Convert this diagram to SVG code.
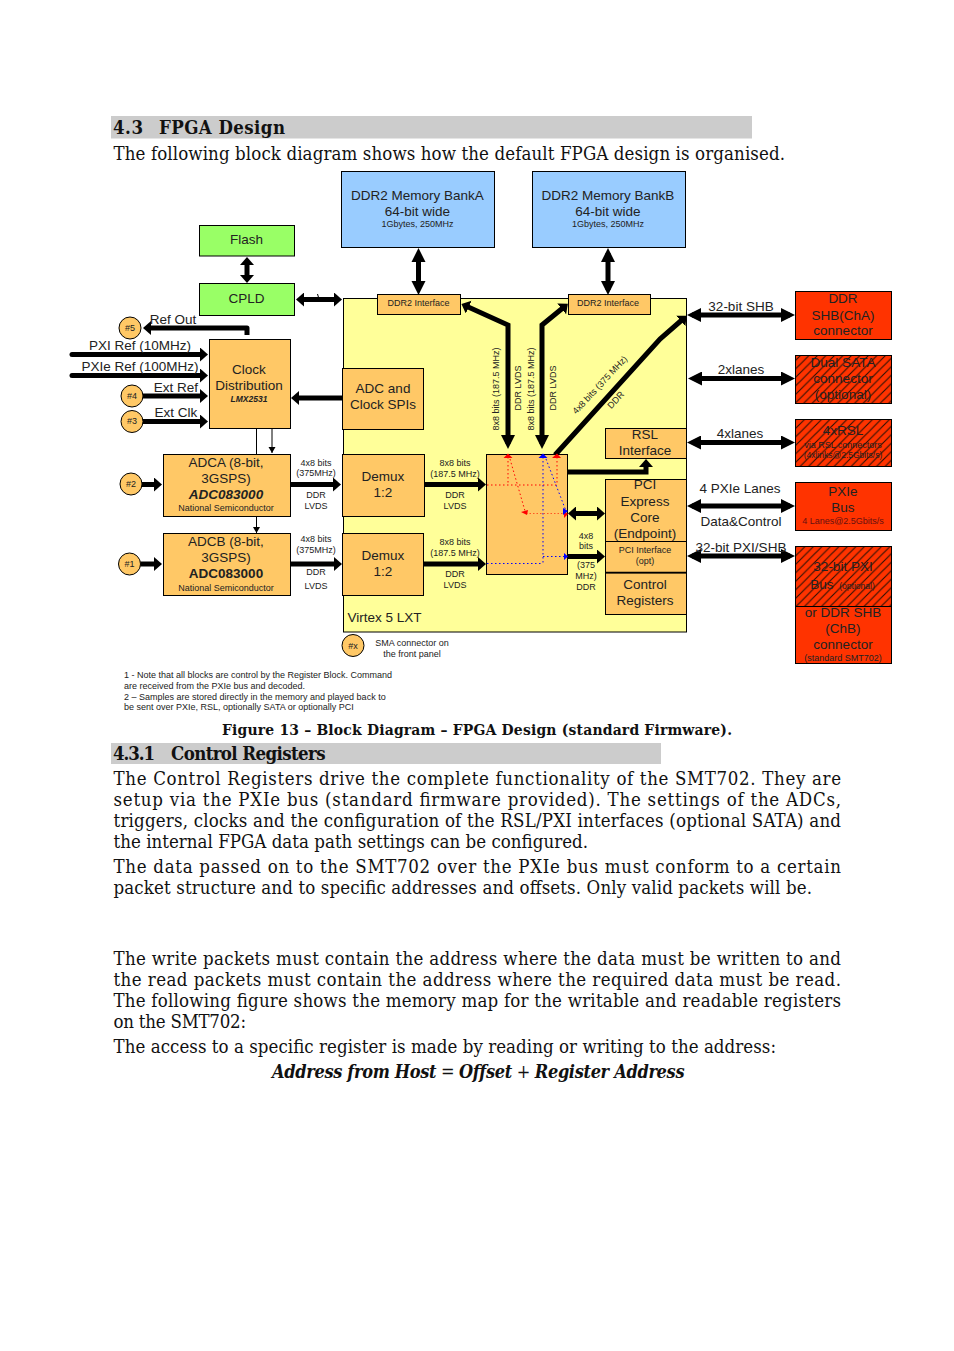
<svg xmlns="http://www.w3.org/2000/svg" width="954" height="1351" viewBox="0 0 954 1351">
<style>
text{font-family:"Liberation Sans",Arial,sans-serif;fill:#222;text-anchor:middle}
.b{font-family:"DejaVu Serif Condensed","DejaVu Serif",serif;font-size:18.5px;fill:#111;text-anchor:start}
.h{font-family:"DejaVu Serif Condensed","DejaVu Serif",serif;font-size:18.5px;font-weight:bold;fill:#111;text-anchor:start}
.n{stroke:#000;stroke-width:1}
.y{fill:#ffc866}.g{fill:#99ff66}.m{fill:#99ccff}.r{fill:#ff3300}.x{fill:url(#hatch)}
.c{fill:#ffc866;stroke:#000;stroke-width:1}
.t14{font-size:13.5px}.t9{font-size:9px}.t8{font-size:8.5px}
.a{fill:none;stroke:#000;stroke-width:5;marker-end:url(#ah)}
.aa{fill:none;stroke:#000;stroke-width:5;marker-end:url(#ah);marker-start:url(#ahs)}
.al{fill:none;stroke:#000;stroke-width:5;marker-end:url(#ahl);marker-start:url(#ahls)}
.an{fill:none;stroke:#000;stroke-width:5;marker-start:url(#ahls);marker-end:url(#ah)}
.thin{fill:none;stroke:#000;stroke-width:1}
.dr{fill:none;stroke:#f00;stroke-width:1;stroke-dasharray:1.5 2.5}
.db{fill:none;stroke:#00f;stroke-width:1;stroke-dasharray:1.5 2.5}
.do{fill:none;stroke:#ff5522;stroke-width:1.2;stroke-dasharray:1.5 2}
</style>
<defs>
<marker id="ah" markerUnits="userSpaceOnUse" markerWidth="10" markerHeight="15" refX="3" refY="7" orient="auto"><path d="M0 0L8 7L0 14Z" fill="#000"/></marker>
<marker id="ahs" markerUnits="userSpaceOnUse" markerWidth="10" markerHeight="15" refX="5" refY="7" orient="auto"><path d="M8 0L0 7L8 14Z" fill="#000"/></marker>
<marker id="ahl" markerUnits="userSpaceOnUse" markerWidth="15" markerHeight="15" refX="9" refY="7" orient="auto"><path d="M0 0L14 7L0 14Z" fill="#000"/></marker>
<marker id="ahls" markerUnits="userSpaceOnUse" markerWidth="15" markerHeight="15" refX="5" refY="7" orient="auto"><path d="M14 0L0 7L14 14Z" fill="#000"/></marker>
<marker id="th" markerUnits="userSpaceOnUse" markerWidth="8" markerHeight="8" refX="6" refY="3.5" orient="auto"><path d="M0 0L6 3.5L0 7Z" fill="#000"/></marker>
<pattern id="hatch" patternUnits="userSpaceOnUse" width="8.5" height="8.5"><rect width="8.5" height="8.5" fill="#ff3300"/><path d="M-2 2L2 -2M0 8.500L8.500 0M6.500 10.500L10.500 6.500" stroke="#2a1005" stroke-width="1.1"/></pattern>
</defs>
<rect width="954" height="1351" fill="#fff"/>

<g id="page-text">
<rect x="111" y="116" width="641" height="22.500" fill="#ccc"/>
<text class="h" x="113" y="133.500" textLength="30">4.3</text><text class="h" x="159" y="133.500" textLength="126">FPGA Design</text>
<text class="b" x="113.500" y="159.500" textLength="671.500">The following block diagram shows how the default FPGA design is organised.</text>
<text class="b" style="font-size:15.500px;font-weight:bold" x="222" y="735" textLength="510">Figure 13 – Block Diagram – FPGA Design (standard Firmware).</text>
<rect x="111" y="743" width="550" height="21" fill="#ccc"/>
<text class="h" x="113" y="759.500" textLength="42">4.3.1</text><text class="h" x="171" y="759.500" textLength="154.500">Control Registers</text>
<text class="b" x="113.500" y="785" textLength="727.500">The Control Registers drive the complete functionality of the SMT702. They are</text>
<text class="b" x="113.500" y="806" textLength="727.500">setup via the PXIe bus (standard firmware provided). The settings of the ADCs,</text>
<text class="b" x="113.500" y="827" textLength="727.500">triggers, clocks and the configuration of the RSL/PXI interfaces (optional SATA) and</text>
<text class="b" x="113.500" y="848" textLength="474.500">the internal FPGA data path settings can be configured.</text>
<text class="b" x="113.500" y="873" textLength="727.500">The data passed on to the SMT702 over the PXIe bus must conform to a certain</text>
<text class="b" x="113.500" y="894" textLength="698.500">packet structure and to specific addresses and offsets. Only valid packets will be.</text>
<text class="b" x="113.500" y="965" textLength="727.500">The write packets must contain the address where the data must be written to and</text>
<text class="b" x="113.500" y="986" textLength="727.500">the read packets must contain the address where the required data must be read.</text>
<text class="b" x="113.500" y="1007" textLength="727.500">The following figure shows the memory map for the writable and readable registers</text>
<text class="b" x="113.500" y="1028" textLength="132.500">on the SMT702:</text>
<text class="b" x="113.500" y="1053" textLength="662.500">The access to a specific register is made by reading or writing to the address:</text>
<text class="b" style="font-size:18px" x="272" y="1078" textLength="412.500"><tspan font-style="italic" font-weight="bold">Address from Host</tspan> = <tspan font-style="italic" font-weight="bold">Offset</tspan> + <tspan font-style="italic" font-weight="bold">Register Address</tspan></text>
</g>

<g id="fpga"><rect x="343.500" y="298.500" width="343" height="333.500" fill="#ffff99" stroke="#000"/><text class="t14" x="384.500" y="622">Virtex 5 LXT</text></g>

<g id="connectors">
<path class="aa" d="M247 262V278"/>
<path class="aa" d="M301 299.500H337"/>
<path class="thin" d="M317.500 294L319 299"/>
<path class="al" d="M418.500 253V290"/>
<path class="al" d="M608 253V290"/>
<path class="a" d="M247 335V328H148" stroke-linejoin="round"/>
<path class="a" d="M72 354.500H203" stroke-linecap="round"/>
<path class="a" d="M72 375.500H203" stroke-linecap="round"/>
<path class="a" d="M142 396H203"/>
<path class="a" d="M142 421.500H203"/>
<path class="a" d="M343 398H296"/>
<path class="thin" d="M256.500 428V454"/>
<path class="thin" d="M272 428V453" marker-end="url(#th)"/>
<path class="thin" d="M256.500 516V533" marker-end="url(#th)"/>
<path class="a" d="M142 484.500H157"/>
<path class="a" d="M140 564H157"/>
<path class="a" d="M291 484.500H336"/>
<path class="a" d="M291 564H337"/>
<path class="a" d="M424 484.500H481"/>
<path class="a" d="M424 564H481"/>
<path class="an" d="M508 444V325L466 306"/>
<path class="an" d="M542 444V325L564 307"/>
<path class="a" d="M555 455L660 339L683 319"/>
<path class="al" d="M692 315H790"/>
<path class="al" d="M693 378.500H790"/>
<path class="al" d="M692 442.500H790"/>
<path class="al" d="M692 506H790"/>
<path class="al" d="M692 556H790"/>
<path class="a" d="M568 472H646V464"/>
<path class="aa" d="M573 513.500H600"/>
<path class="a" d="M568 556.500H600"/>
</g>

<g id="mem-a" class="n"><rect class="m" x="341.500" y="171.500" width="153" height="76"/></g>
<g id="mem-a-t"><text class="t14" x="417.500" y="199.500">DDR2 Memory BankA</text><text class="t14" x="417.500" y="215.500">64-bit wide</text><text class="t9" x="417.500" y="227">1Gbytes, 250MHz</text></g>
<g id="mem-b" class="n"><rect class="m" x="532.500" y="171.500" width="153" height="76"/></g>
<g id="mem-b-t"><text class="t14" x="608" y="199.500">DDR2 Memory BankB</text><text class="t14" x="608" y="215.500">64-bit wide</text><text class="t9" x="608" y="227">1Gbytes, 250MHz</text></g>
<g id="flash"><rect class="g n" x="199.500" y="225.500" width="95" height="30.500"/><text class="t14" x="246.500" y="244">Flash</text></g>
<g id="cpld"><rect class="g n" x="199.500" y="283.500" width="95" height="32"/><text class="t14" x="246.500" y="303">CPLD</text></g>
<g id="clock"><rect class="y n" x="209.500" y="339.500" width="81" height="89"/><text class="t14" x="249" y="374">Clock</text><text class="t14" x="249" y="390">Distribution</text><text x="249" y="402" style="font-size:8.500px;font-weight:bold;font-style:italic">LMX2531</text></g>
<g id="spi"><rect class="y n" x="342.500" y="368.500" width="81" height="61"/><text class="t14" x="383" y="393">ADC and</text><text class="t14" x="383" y="409">Clock SPIs</text></g>
<g id="ifa"><rect class="y n" x="377.500" y="294.500" width="83" height="20"/><text class="t9" x="418.500" y="306">DDR2 Interface</text></g>
<g id="ifb"><rect class="y n" x="568.500" y="294.500" width="82" height="20"/><text class="t9" x="608" y="306">DDR2 Interface</text></g>
<g id="adca"><rect class="y n" x="163.500" y="454.500" width="127" height="62"/><text class="t14" x="226" y="467">ADCA (8-bit,</text><text class="t14" x="226" y="483">3GSPS)</text><text x="226" y="499" style="font-size:13.500px;font-weight:bold;font-style:italic">ADC083000</text><text class="t9" x="226" y="511">National Semiconductor</text></g>
<g id="adcb"><rect class="y n" x="163.500" y="533.500" width="127" height="62"/><text class="t14" x="226" y="546">ADCB (8-bit,</text><text class="t14" x="226" y="562">3GSPS)</text><text x="226" y="578" style="font-size:13.500px;font-weight:bold">ADC083000</text><text class="t9" x="226" y="591">National Semiconductor</text></g>
<g id="demux1"><rect class="y n" x="342.500" y="454.500" width="82" height="62"/><text class="t14" x="383" y="481">Demux</text><text class="t14" x="383" y="497">1:2</text></g>
<g id="demux2"><rect class="y n" x="342.500" y="533.500" width="81" height="62"/><text class="t14" x="383" y="560">Demux</text><text class="t14" x="383" y="576">1:2</text></g>
<g id="central"><rect class="y n" x="486.500" y="454.500" width="81" height="120"/>
<path class="dr" d="M487 485H557M508 457V485M557 457V485M510 459L525 511"/>
<path class="db" d="M487 563.500H543M543 457V563.500M543 556.500H565M546 459L566 511"/>
<path class="do" d="M526 513.500H565"/>
<path d="M503.500 458L508 453.500L512.500 458ZM552 458L557 453.500L561 458ZM521 512L528 510L527 515ZM564 511L568 514L564 518Z" fill="#f00"/>
<path d="M538.500 458L543 453.500L547.500 458ZM563 508L568 511L563 515ZM564 553L568 556.500L564 560Z" fill="#00f"/>
</g>
<g id="rsl"><rect class="y n" x="605.500" y="428.500" width="81" height="30"/><text class="t14" x="645" y="439">RSL</text><text class="t14" x="645" y="455">Interface</text></g>
<g id="pci"><rect class="y n" x="605.500" y="479.500" width="81" height="62"/><text class="t14" x="645" y="489">PCI</text><text class="t14" x="645" y="506">Express</text><text class="t14" x="645" y="522">Core</text><text class="t14" x="645" y="538">(Endpoint)</text></g>
<g id="pcii"><rect class="y n" x="605.500" y="541.500" width="81" height="31"/><text class="t9" x="645" y="553">PCI Interface</text><text class="t9" x="645" y="564">(opt)</text></g>
<g id="ctrl"><rect class="y" x="605.500" y="573" width="81" height="41.500" stroke="#000"/><path d="M605 572.500H687" stroke="#000" stroke-width="1.500"/><text class="t14" x="645" y="589">Control</text><text class="t14" x="645" y="605">Registers</text></g>
<g id="shb"><rect class="r n" x="795.500" y="291.500" width="96" height="48"/><text class="t14" x="843" y="303">DDR</text><text class="t14" x="843" y="320">SHB(ChA)</text><text class="t14" x="843" y="335">connector</text></g>
<g id="sata"><rect class="x n" x="795.500" y="355.500" width="96" height="48"/><text class="t14" x="843" y="367">Dual SATA</text><text class="t14" x="843" y="383">connector</text><text class="t14" x="843" y="399">(optional)</text></g>
<g id="rslc"><rect class="x n" x="795.500" y="419.500" width="96" height="47"/><text class="t14" x="843" y="435">4xRSL</text><text class="t9" x="843" y="448">via RSL connectors</text><text class="t8" x="843" y="458">(4xlinks@2.5Gbits/s)</text></g>
<g id="pxie"><rect class="r n" x="795.500" y="482.500" width="96" height="48"/><text class="t14" x="843" y="496">PXIe</text><text class="t14" x="843" y="512">Bus</text><text class="t9" x="843" y="524" style="fill:#611">4 Lanes@2.5Gbits/s</text></g>
<g id="pxi"><rect class="x n" x="795.500" y="546.500" width="96" height="60"/><text class="t14" x="843" y="571">32-bit PXI</text><text class="t14" x="822" y="589">Bus</text><text class="t8" x="857" y="589">(optional)</text></g>
<g id="chb"><rect class="r n" x="795.500" y="606.500" width="96" height="57"/><text class="t14" x="843" y="617">or DDR SHB</text><text class="t14" x="843" y="633">(ChB)</text><text class="t14" x="843" y="649">connector</text><text class="t9" x="843" y="661">(standard SMT702)</text></g>

<g id="sma5"><circle class="c" cx="130" cy="328" r="11"/><text x="130" y="330.500" class="t9">#5</text></g>
<g id="sma4"><circle class="c" cx="132" cy="396" r="11"/><text x="132" y="398.500" class="t9">#4</text></g>
<g id="sma3"><circle class="c" cx="132" cy="421.500" r="11"/><text x="132" y="424" class="t9">#3</text></g>
<g id="sma2"><circle class="c" cx="131" cy="484" r="11"/><text x="131" y="487" class="t9">#2</text></g>
<g id="sma1"><circle class="c" cx="129.500" cy="564" r="11"/><text x="129.500" y="567" class="t9">#1</text></g>
<g id="smax"><circle class="c" cx="353" cy="645.500" r="11"/><text x="353" y="648.500" class="t9">#x</text></g>

<g id="labels">
<text class="t14" x="173" y="324">Ref Out</text>
<text class="t14" x="140" y="350">PXI Ref (10MHz)</text>
<text class="t14" x="140" y="371">PXIe Ref (100MHz)</text>
<text class="t14" x="176" y="392">Ext Ref</text>
<text class="t14" x="176" y="417">Ext Clk</text>
<text class="t9" x="316" y="466">4x8 bits</text><text class="t9" x="316" y="476">(375MHz)</text><text class="t9" x="316" y="498">DDR</text><text class="t9" x="316" y="509">LVDS</text>
<text class="t9" x="316" y="542">4x8 bits</text><text class="t9" x="316" y="553">(375MHz)</text><text class="t9" x="316" y="575">DDR</text><text class="t9" x="316" y="589">LVDS</text>
<text class="t9" x="455" y="466">8x8 bits</text><text class="t9" x="455" y="477">(187.5 MHz)</text><text class="t9" x="455" y="498">DDR</text><text class="t9" x="455" y="509">LVDS</text>
<text class="t9" x="455" y="545">8x8 bits</text><text class="t9" x="455" y="556">(187.5 MHz)</text><text class="t9" x="455" y="577">DDR</text><text class="t9" x="455" y="588">LVDS</text>
<text class="t9" transform="translate(499 389) rotate(-90)">8x8 bits (187.5 MHz)</text>
<text class="t9" transform="translate(521 388) rotate(-90)">DDR LVDS</text>
<text class="t9" transform="translate(534 389) rotate(-90)">8x8 bits (187.5 MHz)</text>
<text class="t9" transform="translate(556 388) rotate(-90)">DDR LVDS</text>
<text class="t9" transform="translate(602 387) rotate(-47)">4x8 bits (375 MHz)</text>
<text class="t9" transform="translate(618 402) rotate(-47)">DDR</text>
<text class="t9" x="586" y="539">4x8</text><text class="t9" x="586" y="549">bits</text><text class="t9" x="586" y="568">(375</text><text class="t9" x="586" y="579">MHz)</text><text class="t9" x="586" y="590">DDR</text>
<text class="t14" x="741" y="311">32-bit SHB</text>
<text class="t14" x="741" y="374">2xlanes</text>
<text class="t14" x="740" y="438">4xlanes</text>
<text class="t14" x="740" y="493">4 PXIe Lanes</text>
<text class="t14" x="741" y="526">Data&amp;Control</text>
<text class="t14" x="741" y="552">32-bit PXI/SHB</text>
<text class="t9" x="412" y="646">SMA connector on</text><text class="t9" x="412" y="657">the front panel</text>
<g style="font-size:9px"><text x="124" y="678" style="text-anchor:start">1 - Note that all blocks are control by the Register Block. Command</text>
<text x="124" y="689" style="text-anchor:start">are received from the PXIe bus and decoded.</text>
<text x="124" y="700" style="text-anchor:start">2 – Samples are stored directly in the memory and played back to</text>
<text x="124" y="710" style="text-anchor:start">be sent over PXIe, RSL, optionally SATA or optionally PCI</text></g>
</g>
</svg>
